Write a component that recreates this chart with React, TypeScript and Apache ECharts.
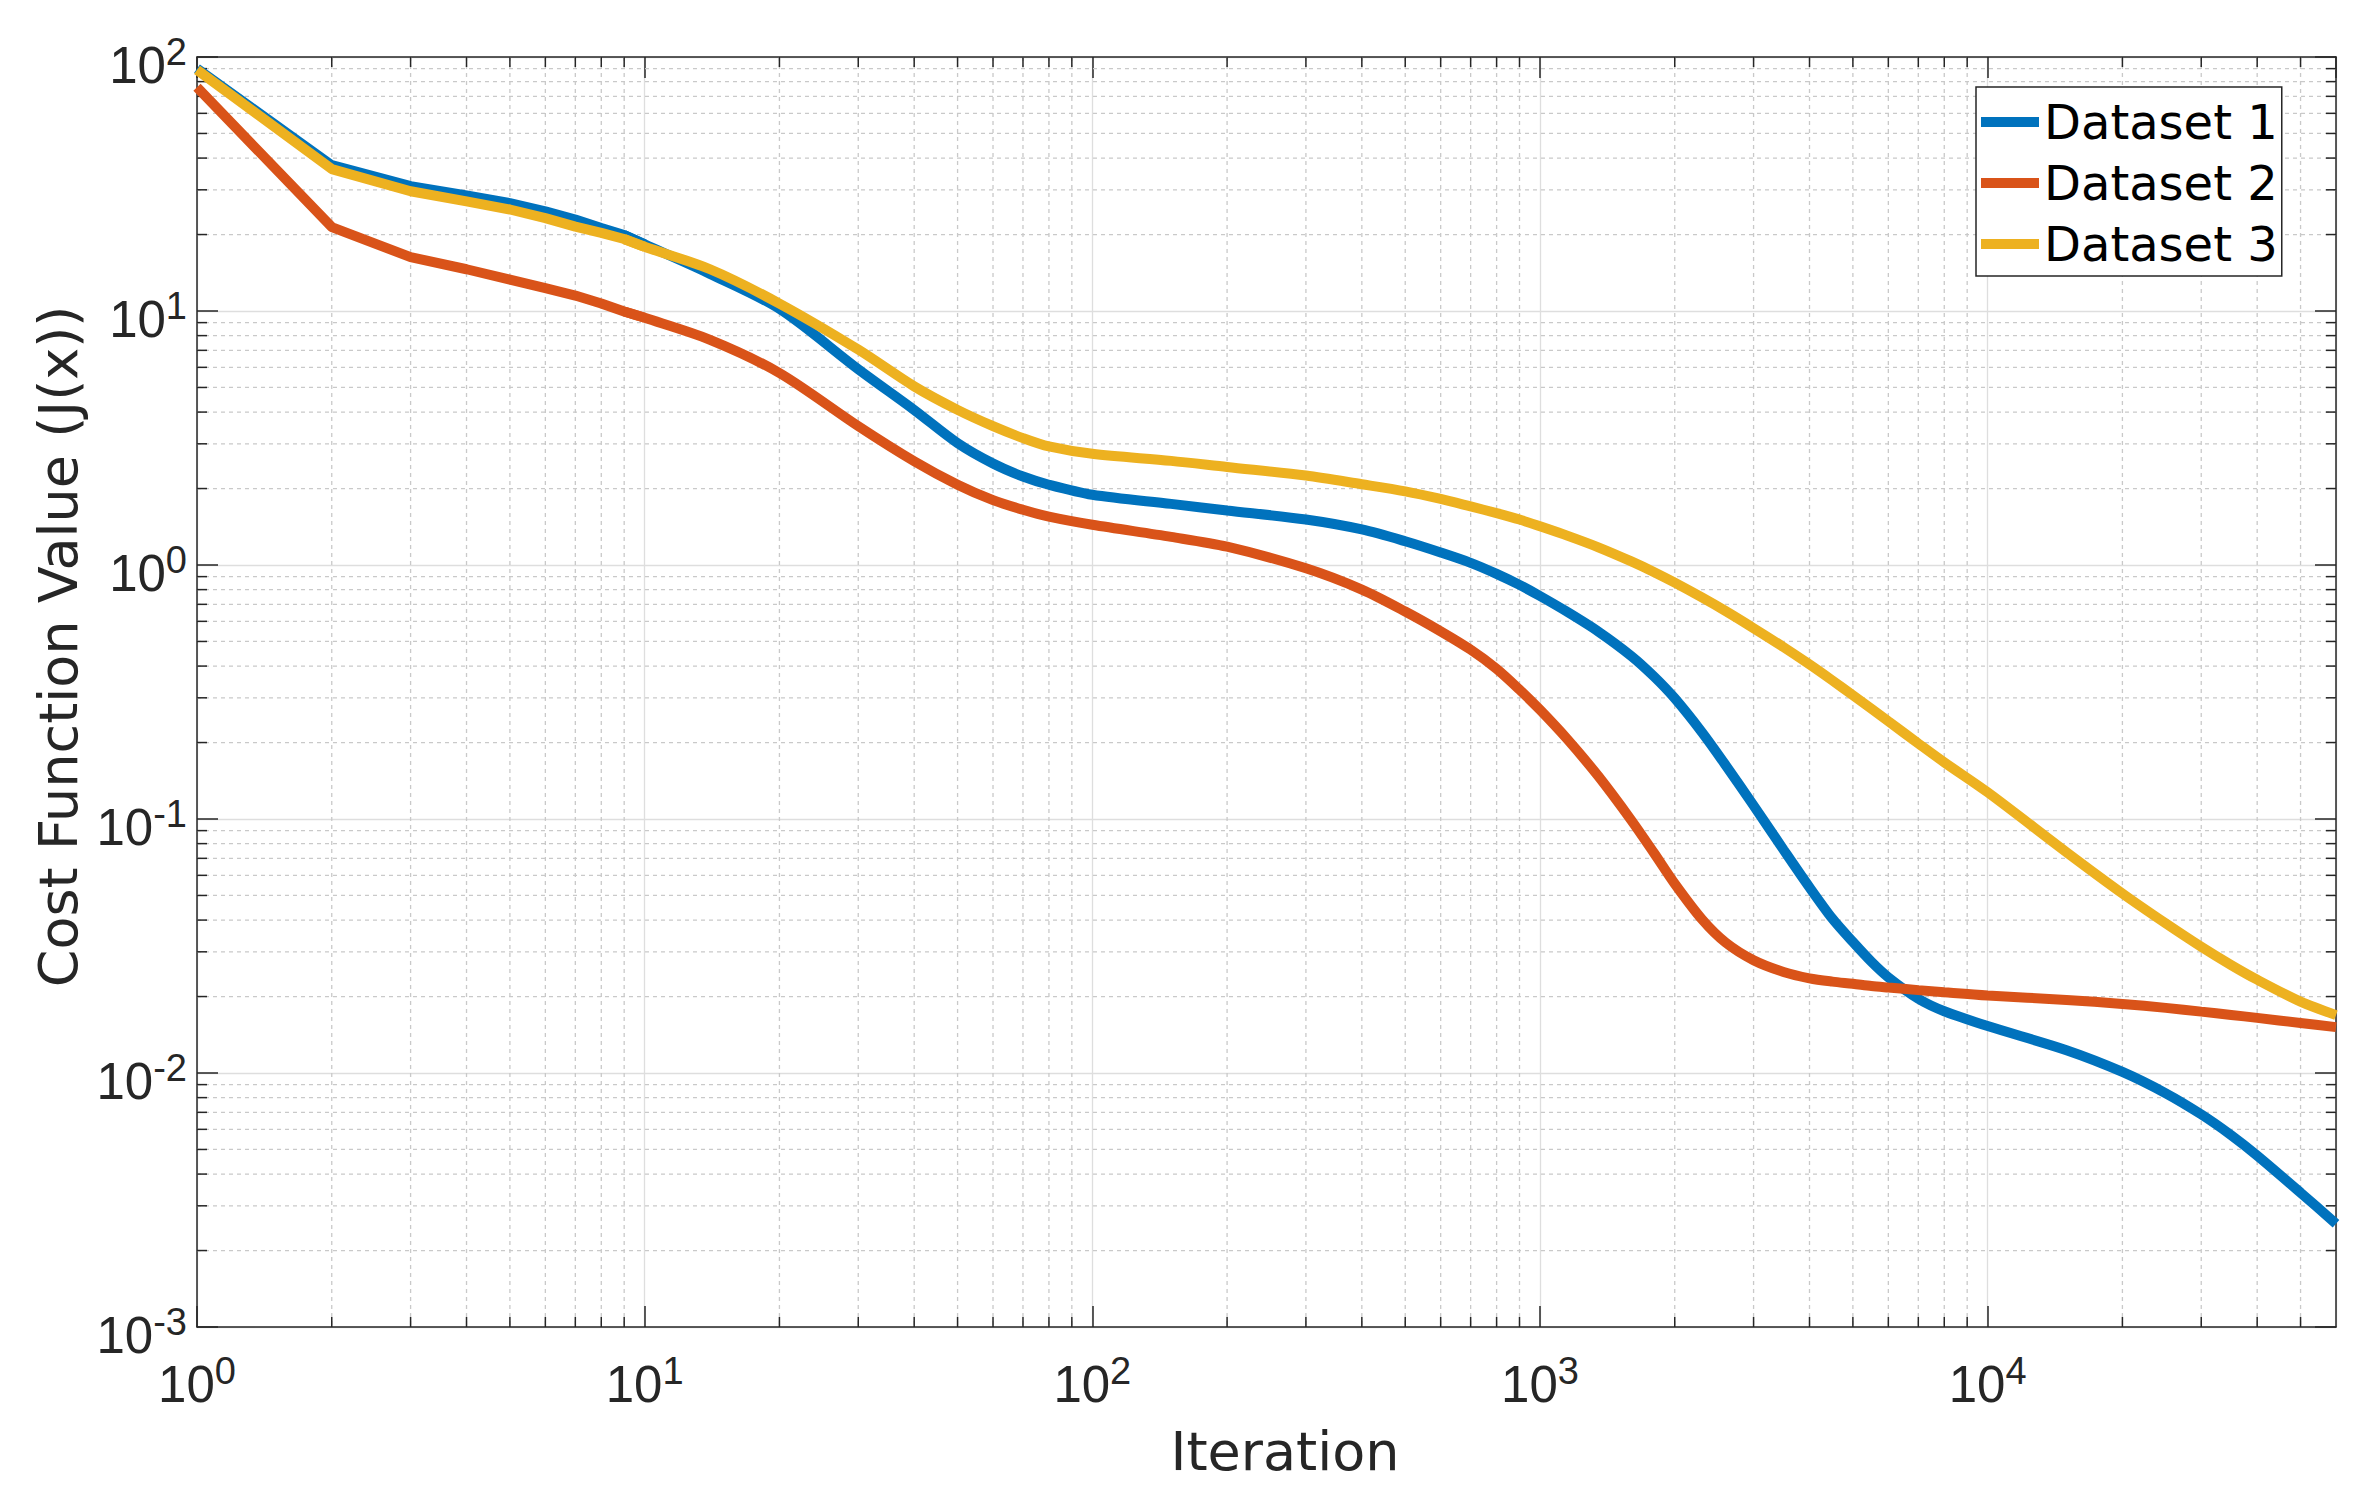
import React, { useEffect, useRef } from "react";
import * as echarts from "echarts";

// ---- data ----
const iterations = [
  1, 2, 3, 4, 5, 6, 7, 8, 9, 10,
  14, 20, 30, 40, 50, 60, 70, 80, 100,
  150, 200, 300, 400, 500, 600, 700, 800, 900, 1000,
  1150, 1350, 1600, 1800, 2000, 2300, 2600, 3000, 3500, 4000, 4500, 5000, 5500, 6000, 7000, 8000, 10000,
  15000, 20000, 25000, 30000, 35000, 40000, 50000, 60000,
];

const dataset1 = [
  90, 37.5, 31.0, 28.5, 26.6, 24.7, 22.9, 21.2, 19.9, 18.3,
  14.0, 10.2, 5.9, 4.08, 3.02, 2.51, 2.23, 2.07, 1.89,
  1.74, 1.64, 1.51, 1.38, 1.24, 1.12, 1.02, 0.923, 0.835, 0.755,
  0.654, 0.547, 0.438, 0.363, 0.2985, 0.2195, 0.1626, 0.113, 0.0757, 0.0538, 0.0405, 0.0328, 0.0274, 0.0238, 0.0196, 0.0175, 0.0153,
  0.0123, 0.0101, 0.00832, 0.00687, 0.00569, 0.00473, 0.00338, 0.00255,
];

const dataset2 = [
  76, 21.4, 16.3, 14.6, 13.3, 12.3, 11.5, 10.7, 9.95, 9.4,
  7.7, 5.7, 3.52, 2.56, 2.07, 1.8, 1.65, 1.55, 1.44,
  1.29, 1.18, 0.97, 0.8, 0.656, 0.548, 0.464, 0.39, 0.323, 0.269,
  0.2064, 0.1474, 0.0988, 0.0732, 0.0556, 0.0403, 0.0326, 0.0278, 0.025, 0.0236, 0.0229, 0.02245, 0.022, 0.0217, 0.0212, 0.0208, 0.0202,
  0.0194, 0.0187, 0.01805, 0.01744, 0.01693, 0.01648, 0.01574, 0.01516,
];

const dataset3 = [
  89, 36.2, 29.6, 27.0, 25.1, 23.2, 21.5, 20.3, 19.2, 17.9,
  14.6, 10.7, 7.05, 5.05, 4.08, 3.52, 3.16, 2.93, 2.74,
  2.57, 2.43, 2.25, 2.08, 1.95, 1.82, 1.7, 1.6, 1.51, 1.42,
  1.305, 1.174, 1.033, 0.937, 0.852, 0.745, 0.658, 0.564, 0.475, 0.406, 0.351, 0.307, 0.2715, 0.2424, 0.1984, 0.1672, 0.1274,
  0.074, 0.0509, 0.0388, 0.0314, 0.0266, 0.0233, 0.0191, 0.0169,
];

const seriesNames = ["Dataset 1", "Dataset 2", "Dataset 3"];
const seriesColors = ["#0072BD", "#D95319", "#EDB120"];

// the first iterations are joined by straight segments, the rest is a smooth curve
const straightUntilIndex = 9; // iteration 10

const xMin = 1;
const xMax = 60000;
const yMin = 0.001;
const yMax = 100;

const xMinorTicks = [
  2, 3, 4, 5, 6, 7, 8, 9,
  20, 30, 40, 50, 60, 70, 80, 90,
  200, 300, 400, 500, 600, 700, 800, 900,
  2000, 3000, 4000, 5000, 6000, 7000, 8000, 9000,
  20000, 30000, 40000, 50000,
];
const yMinorTicks = [
  0.002, 0.003, 0.004, 0.005, 0.006, 0.007, 0.008, 0.009,
  0.02, 0.03, 0.04, 0.05, 0.06, 0.07, 0.08, 0.09,
  0.2, 0.3, 0.4, 0.5, 0.6, 0.7, 0.8, 0.9,
  2, 3, 4, 5, 6, 7, 8, 9,
  20, 30, 40, 50, 60, 70, 80, 90,
];

const AXIS_COLOR = "#262626";
const MAJOR_GRID = "#dedede";
const MINOR_GRID = "#c9c9c9";
const TICK_FONT = "'Liberation Sans', Arial, Helvetica, sans-serif";
const TITLE_FONT = "'DejaVu Sans', Verdana, sans-serif";

const powLabel = (v: number) => `{b|10}{s|${Math.round(Math.log10(v))}}`;

const richLabel = {
  b: {
    fontFamily: TICK_FONT,
    fontSize: 51,
    lineHeight: 64,
    color: AXIS_COLOR,
  },
  s: {
    fontFamily: TICK_FONT,
    fontSize: 38,
    lineHeight: 24,
    color: AXIS_COLOR,
    verticalAlign: "top",
  },
};

export default function App() {
  const ref = useRef<HTMLDivElement>(null);

  useEffect(() => {
    if (!ref.current) return;
    const chart = echarts.init(ref.current, undefined, { renderer: "svg" });

    const minorXRender = (params: any, api: any) => {
      const cs = params.coordSys;
      const x = api.coord([api.value(0), 1])[0];
      const top = cs.y;
      const bottom = cs.y + cs.height;
      return {
        type: "group",
        children: [
          {
            type: "line",
            shape: { x1: x, y1: top, x2: x, y2: bottom },
            style: { stroke: MINOR_GRID, lineWidth: 1.3, lineDash: [4, 4] },
          },
          {
            type: "line",
            shape: { x1: x, y1: bottom, x2: x, y2: bottom - 10 },
            style: { stroke: AXIS_COLOR, lineWidth: 1.5 },
          },
          {
            type: "line",
            shape: { x1: x, y1: top, x2: x, y2: top + 10 },
            style: { stroke: AXIS_COLOR, lineWidth: 1.5 },
          },
        ],
      };
    };

    const minorYRender = (params: any, api: any) => {
      const cs = params.coordSys;
      const y = api.coord([1, api.value(1)])[1];
      const left = cs.x;
      const right = cs.x + cs.width;
      return {
        type: "group",
        children: [
          {
            type: "line",
            shape: { x1: left, y1: y, x2: right, y2: y },
            style: { stroke: MINOR_GRID, lineWidth: 1.3, lineDash: [4, 4] },
          },
          {
            type: "line",
            shape: { x1: left, y1: y, x2: left + 10, y2: y },
            style: { stroke: AXIS_COLOR, lineWidth: 1.5 },
          },
          {
            type: "line",
            shape: { x1: right, y1: y, x2: right - 10, y2: y },
            style: { stroke: AXIS_COLOR, lineWidth: 1.5 },
          },
        ],
      };
    };

    const datasets = [dataset1, dataset2, dataset3];

    const axisCommon = {
      axisLine: { show: true, lineStyle: { color: AXIS_COLOR, width: 1.5 } },
      axisTick: { show: true, inside: true, length: 21, lineStyle: { color: AXIS_COLOR, width: 1.5 } },
    };

    const lineSeries: any[] = [];
    datasets.forEach((d, i) => {
      const pts = iterations.map((it, j) => [it, d[j]]);
      const base = {
        type: "line",
        name: seriesNames[i],
        xAxisIndex: 0,
        yAxisIndex: 0,
        showSymbol: false,
        symbol: "none",
        clip: false,
        z: 3 + i,
        color: seriesColors[i],
        lineStyle: { width: 10, color: seriesColors[i] },
        emphasis: { disabled: true },
      };
      // straight part (first iterations)
      lineSeries.push({ ...base, data: pts.slice(0, straightUntilIndex + 1) });
      // smooth part
      lineSeries.push({
        ...base,
        data: pts.slice(straightUntilIndex - 1),
        smooth: 0.3,
      });
    });

    chart.setOption({
      animation: false,
      backgroundColor: "#ffffff",
      grid: { left: 197, right: 30, top: 57, bottom: 166, containLabel: false },
      legend: {
        data: seriesNames,
        orient: "vertical",
        left: 1976,
        top: 87,
        backgroundColor: "#ffffff",
        borderColor: AXIS_COLOR,
        borderWidth: 1.5,
        borderRadius: 0,
        padding: [10, 4, 7, 5],
        itemGap: 11,
        itemWidth: 58,
        itemHeight: 10,
        icon: "rect",
        selectedMode: false,
        textStyle: { fontFamily: TITLE_FONT, fontSize: 48, lineHeight: 50, color: "#000000" },
      },
      xAxis: [
        {
          type: "log",
          logBase: 10,
          min: xMin,
          max: xMax,
          position: "bottom",
          ...axisCommon,
          axisLabel: {
            show: true,
            margin: 25,
            showMaxLabel: false,
            formatter: powLabel,
            rich: richLabel,
          },
          splitLine: { show: true, lineStyle: { color: MAJOR_GRID, width: 1.3 } },
          name: "Iteration",
          nameLocation: "middle",
          nameGap: 97,
          nameTextStyle: {
            fontFamily: TITLE_FONT,
            fontSize: 54,
            color: AXIS_COLOR,
            padding: [0, 0, 0, 37],
          },
        },
        {
          type: "log",
          logBase: 10,
          min: xMin,
          max: xMax,
          position: "top",
          ...axisCommon,
          axisLabel: { show: false },
          splitLine: { show: false },
        },
      ],
      yAxis: [
        {
          type: "log",
          logBase: 10,
          min: yMin,
          max: yMax,
          position: "left",
          ...axisCommon,
          axisLabel: {
            show: true,
            margin: 10,
            padding: [16, 0, 0, 0],
            formatter: powLabel,
            rich: richLabel,
          },
          splitLine: { show: true, lineStyle: { color: MAJOR_GRID, width: 1.3 } },
          name: "Cost Function Value (J(x))",
          nameLocation: "middle",
          nameRotate: 90,
          nameGap: 111,
          nameTextStyle: {
            fontFamily: TITLE_FONT,
            fontSize: 54,
            color: AXIS_COLOR,
            padding: [0, 0, 0, 91],
          },
        },
        {
          type: "log",
          logBase: 10,
          min: yMin,
          max: yMax,
          position: "right",
          ...axisCommon,
          axisLabel: { show: false },
          splitLine: { show: false },
        },
      ],
      series: [
        {
          type: "custom",
          name: "minorX",
          xAxisIndex: 0,
          yAxisIndex: 0,
          silent: true,
          z: 1,
          renderItem: minorXRender,
          encode: { x: 0, y: 1 },
          data: xMinorTicks.map((v) => [v, 1]),
        },
        {
          type: "custom",
          name: "minorY",
          xAxisIndex: 0,
          yAxisIndex: 0,
          silent: true,
          z: 1,
          renderItem: minorYRender,
          encode: { x: 0, y: 1 },
          data: yMinorTicks.map((v) => [1, v]),
        },
        ...lineSeries,
      ],
    });

    return () => {
      chart.dispose();
    };
  }, []);

  return (
    <div
      ref={ref}
      style={{ position: "absolute", left: 0, top: 0, width: 2366, height: 1493, background: "#fff" }}
    />
  );
}
